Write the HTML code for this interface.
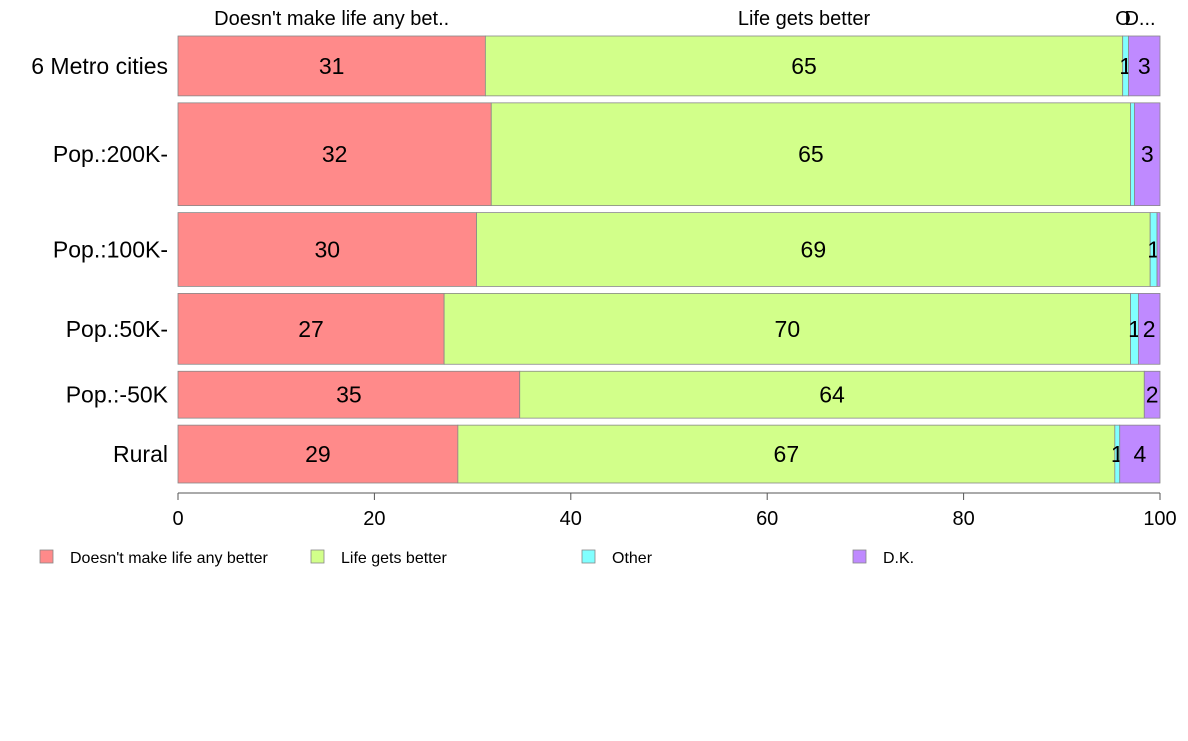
<!DOCTYPE html>
<html><head><meta charset="utf-8"><style>
body{margin:0;background:#fff;width:1188px;height:736px;overflow:hidden;font-family:"Liberation Sans",Arial,sans-serif}
svg text{font-family:"Liberation Sans",Arial,sans-serif}
</style></head><body>
<svg id="chart" width="1188" height="736" xmlns="http://www.w3.org/2000/svg"></svg>
<script>
const categories = ["6 Metro cities","Pop.:200K-","Pop.:100K-","Pop.:50K-","Pop.:-50K","Rural"];
const seriesNames = ["Doesn't make life any better","Life gets better","Other","D.K."];
const doesntBetter = [31.3,31.9,30.4,27.1,34.8,28.5];
const lifeBetter = [64.9,65.1,68.6,69.9,63.6,66.9];
const other = [0.6,0.4,0.7,0.8,0.0,0.5];
const dk = [3.2,2.6,0.3,2.2,1.6,4.1];
const rowWeights = [60,103,74,71,47,58];
const xTicks = [0,20,40,60,80,100];
const colors = ["#ff8a8a","#d2ff8a","#80ffff","#bf8aff"];
const series = [doesntBetter,lifeBetter,other,dk];

const svg = document.getElementById('chart');
const NS = "http://www.w3.org/2000/svg";
const X0 = 178, X1 = 1160, Y0 = 36, Y1 = 483, GAP = 7;
const xs = v => X0 + (X1 - X0) * v / 100;
function mk(tag, attrs){const e=document.createElementNS(NS,tag);for(const k in attrs)e.setAttribute(k,attrs[k]);svg.appendChild(e);return e;}

const totalW = rowWeights.reduce((a,b)=>a+b,0);
const avail = (Y1 - Y0) - GAP*(categories.length-1);
let y = Y0;
categories.forEach((c,i)=>{
  const h = avail * rowWeights[i] / totalW;
  let cum = 0;
  series.forEach((s,j)=>{
    const v = s[i];
    const r = mk('rect',{x:xs(cum),y:y,width:Math.max(0,xs(cum+v)-xs(cum)),height:h,fill:colors[j],stroke:'#888','stroke-width':0.8});
    
    
    if (Math.round(v) >= 1) {
      const t = mk('text',{x:(xs(cum)+xs(cum+v))/2,y:y+h/2+8,'text-anchor':'middle','font-size':23,fill:'#000'});
      t.textContent = Math.round(v);
      
      
    }
    cum += v;
  });
  const lab = mk('text',{x:168,y:y+h/2+8,'text-anchor':'end','font-size':23,fill:'#000'});
  lab.textContent = c;
  
  
  y += h + GAP;
});

// top labels
const topLabels = ["Doesn't make life any bet..","Life gets better","O","D..."];
let cum0 = 0;
series.forEach((s,j)=>{
  const v = s[0];
  let cx = (xs(cum0)+xs(cum0+v))/2;
  if (j===2) cx = 1123; if (j===3) cx = 1140;
  const t = mk('text',{x:cx,y:25,'text-anchor':'middle','font-size':20,fill:'#000'});
  t.textContent = topLabels[j];
  
  
  cum0 += v;
});

// x axis
const ax = mk('line',{x1:X0,x2:X1,y1:493,y2:493,stroke:'#555','stroke-width':1});


xTicks.forEach(v=>{
  const tk = mk('line',{x1:xs(v),x2:xs(v),y1:493,y2:500,stroke:'#555'});
  
  
  const t = mk('text',{x:xs(v),y:525,'text-anchor':'middle','font-size':20,fill:'#000'});
  t.textContent = v;
  
  
});

// legend
seriesNames.forEach((n,j)=>{
  const lx = 40 + 271*j;
  const r = mk('rect',{x:lx,y:550,width:13,height:13,fill:colors[j],stroke:'#888','stroke-width':0.8});
  
  
  const t = mk('text',{x:lx+30,y:563,'font-size':16,fill:'#000'});
  t.textContent = n;
  
  
});
</script>
</body></html>
